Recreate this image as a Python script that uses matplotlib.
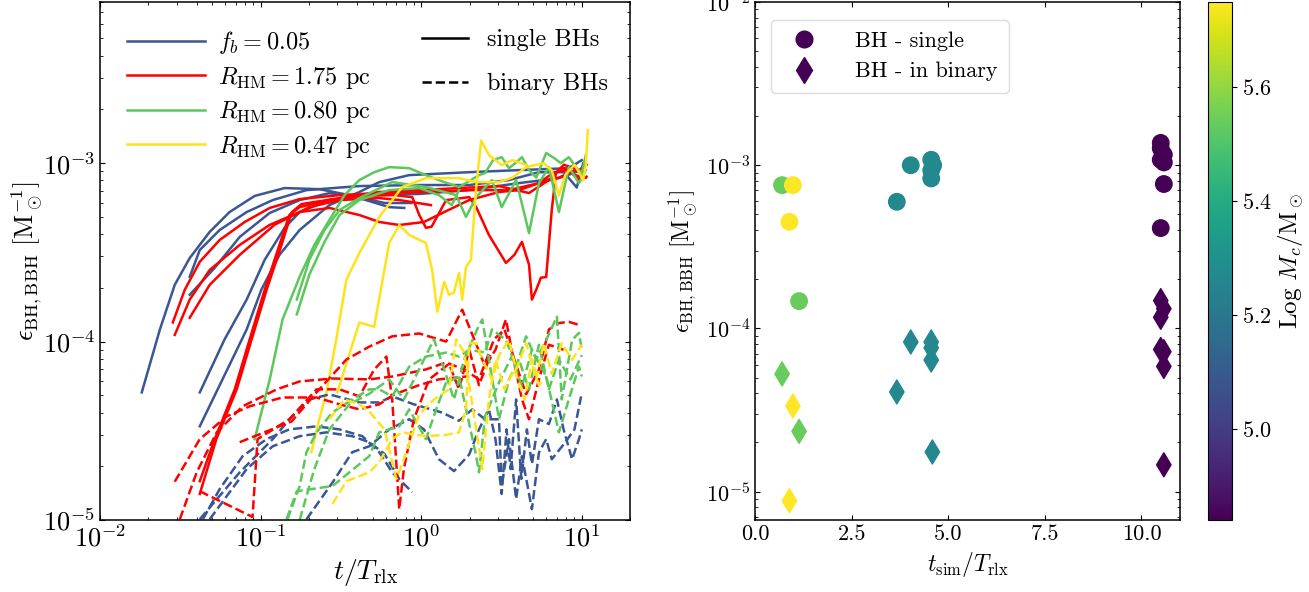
import numpy as np
import matplotlib
matplotlib.use("Agg")
import matplotlib.pyplot as plt
from matplotlib.lines import Line2D
from matplotlib.ticker import FormatStrFormatter

plt.rcParams['font.family'] = 'serif'
plt.rcParams['font.serif'] = ['cmr10', 'DejaVu Serif']
plt.rcParams['mathtext.fontset'] = 'cm'
plt.rcParams['axes.formatter.use_mathtext'] = True
plt.rcParams['xtick.direction'] = 'in'
plt.rcParams['ytick.direction'] = 'in'
plt.rcParams['xtick.top'] = True
plt.rcParams['ytick.right'] = True

# ---- left panel: efficiency vs time (single = solid, binary = dashed) ----
c_blue, c_red, c_green, c_yellow = '#3a5795', '#ff0000', '#5cc85c', '#ffe31a'

# f_b = 0.05, single BHs
t_bs1 = [0.0182, 0.0236, 0.0292, 0.0362, 0.0482, 0.0641, 0.0918, 0.141, 0.232, 0.412, 0.589, 0.867]
e_bs1 = [5.19e-5, 1.17e-4, 2.08e-4, 2.94e-4, 4.12e-4, 5.32e-4, 6.55e-4, 7.25e-4, 7.15e-4, 6.45e-4, 5.98e-4, 5.98e-4]
t_bs2 = [0.0362, 0.0418, 0.0556, 0.0819, 0.119, 0.193, 0.412, 0.973, 1.99, 3.52, 5.41, 7.73, 9.3, 10.2]
e_bs2 = [2.31e-4, 3.26e-4, 4.22e-4, 5.32e-4, 6.21e-4, 7.06e-4, 7.44e-4, 7.54e-4, 7.54e-4, 8.04e-4, 8.9e-4, 8.9e-4, 7.3e-4, 1.0e-3]
t_bs3 = [0.0362, 0.0518, 0.0741, 0.114, 0.175, 0.268, 0.412, 0.632, 0.784]
e_bs3 = [1.83e-4, 2.59e-4, 3.86e-4, 5.26e-4, 6.21e-4, 6.79e-4, 6.37e-4, 5.67e-4, 5.61e-4]
t_bs4 = [0.0418, 0.0597, 0.0819, 0.106, 0.141, 0.175, 0.268, 0.475, 0.973, 1.99, 4.06, 7.2, 10.0]
e_bs4 = [5.19e-5, 1.03e-4, 1.72e-4, 2.87e-4, 4.34e-4, 5.32e-4, 6.21e-4, 6.62e-4, 6.72e-4, 7.06e-4, 7.73e-4, 8.24e-4, 9.14e-4]
t_bs5 = [0.0418, 0.0819, 0.101, 0.131, 0.175, 0.268, 0.412, 0.548, 0.842, 1.99, 4.06, 8.3, 10.0]
e_bs5 = [3.35e-5, 1.17e-4, 1.95e-4, 3.06e-4, 4.22e-4, 5.82e-4, 6.89e-4, 7.83e-4, 8.57e-4, 8.9e-4, 9.14e-4, 9.37e-4, 1.04e-3]

# R_HM = 1.75 pc, single BHs
t_rs1 = [0.0284, 0.0337, 0.0418, 0.0556, 0.0796, 0.114, 0.175, 0.310, 0.548, 1.12, 1.99, 3.52, 5.41, 7.2, 9.0, 10.4]
e_rs1 = [1.28e-4, 1.95e-4, 2.8e-4, 3.71e-4, 4.68e-4, 5.61e-4, 6.29e-4, 6.62e-4, 6.8e-4, 6.89e-4, 7.06e-4, 7.06e-4, 7.73e-4, 8.3e-4, 9.1e-4, 8.9e-4]
t_rs2 = [0.0292, 0.0362, 0.0482, 0.0741, 0.114, 0.175, 0.268, 0.412, 0.548, 0.73, 1.04, 1.39, 1.99, 3.05, 4.06, 5.41, 6.7, 8.3, 9.6, 10.7]
e_rs2 = [1.09e-4, 1.72e-4, 2.52e-4, 3.48e-4, 4.51e-4, 5.32e-4, 5.61e-4, 5.12e-4, 4.68e-4, 4.5e-4, 4.68e-4, 5.32e-4, 6.21e-4, 6.89e-4, 7.06e-4, 7.73e-4, 8.9e-4, 9.14e-4, 8.04e-4, 8.4e-4]
t_rs3 = [0.0362, 0.0482, 0.0741, 0.122, 0.201, 0.310, 0.548, 0.73, 1.15]
e_rs3 = [1.36e-4, 2.08e-4, 3.06e-4, 4.51e-4, 5.67e-4, 6.21e-4, 6.37e-4, 6.21e-4, 5.82e-4]
t_rs4 = [0.0418, 0.0518, 0.069, 0.0855, 0.106, 0.131, 0.151, 0.175, 0.268, 0.412, 0.679, 0.88, 0.973, 1.07, 1.16,
         1.43, 1.99, 2.2, 2.64, 3.37, 3.8, 4.24, 4.69, 4.89, 5.2, 5.56, 6.0, 6.5, 6.9, 7.7, 9.0, 10.6]
e_rs4 = [1.65e-5, 2.84e-5, 5.4e-5, 1.03e-4, 1.95e-4, 3.48e-4, 5.12e-4, 5.67e-4, 6.21e-4, 6.55e-4, 6.62e-4, 6.45e-4, 5.12e-4, 4.34e-4, 4.4e-4,
         6.21e-4, 6.45e-4, 5.67e-4, 3.96e-4, 2.76e-4, 3.06e-4, 3.62e-4, 2.7e-4, 1.72e-4, 1.95e-4, 2.28e-4, 2.3e-4, 5.46e-4, 8.8e-4, 9.4e-4, 8.57e-4, 8.3e-4]
t_rs5 = [0.0418, 0.053, 0.071, 0.088, 0.109, 0.135, 0.156, 0.18, 0.310, 0.548, 0.97, 1.72, 3.05, 4.69, 6.24, 7.73, 9.6, 10.7]
e_rs5 = [1.4e-5, 2.84e-5, 5.4e-5, 1.03e-4, 1.95e-4, 3.48e-4, 5.3e-4, 5.9e-4, 6.37e-4, 6.89e-4, 7.06e-4, 7.25e-4, 7.44e-4, 6.8e-4, 8.04e-4, 9.8e-4, 9.14e-4, 9.8e-4]

# R_HM = 0.80 pc, single BHs
t_gs1 = [0.0918, 0.114, 0.137, 0.175, 0.216, 0.268, 0.333, 0.412, 0.51, 0.632, 0.842, 1.07, 1.39, 1.72, 2.04, 2.29, 2.5,
         2.8, 3.17, 3.52, 3.9, 4.24, 4.69, 5.2, 6.0, 6.7, 7.4, 8.3, 9.3, 10.0, 10.6]
e_gs1 = [2.84e-5, 6.14e-5, 1.33e-4, 2.31e-4, 3.48e-4, 4.8e-4, 6.62e-4, 8.04e-4, 8.9e-4, 9.5e-4, 9.37e-4, 8.57e-4, 7.83e-4, 7.35e-4, 8.04e-4, 8.57e-4, 8.8e-4,
         1.04e-3, 1.08e-3, 9.37e-4, 1.01e-3, 1.08e-3, 9.14e-4, 8.3e-4, 1.14e-3, 1.07e-3, 1.0e-3, 1.08e-3, 9.4e-4, 8.8e-4, 1.11e-3]
t_gs2 = [0.168, 0.201, 0.25, 0.31, 0.412, 0.66, 1.07, 1.65, 1.9, 2.2, 2.76, 3.17, 3.9, 4.69, 5.41, 6.24, 7.2, 8.3, 9.6, 10.6]
e_gs2 = [1.72e-4, 2.87e-4, 4.22e-4, 5.46e-4, 6.37e-4, 7.83e-4, 7.35e-4, 6.62e-4, 5.0e-4, 6.45e-4, 8.04e-4, 5.67e-4, 8.04e-4, 4.06e-4, 7.73e-4, 9.5e-4, 5.32e-4, 9.5e-4, 7.73e-4, 9.14e-4]
t_gs3 = [0.168, 0.201, 0.25, 0.31, 0.412, 0.632, 0.973, 1.29, 1.55, 1.72]
e_gs3 = [1.42e-4, 2.37e-4, 3.62e-4, 5.12e-4, 6.21e-4, 7.06e-4, 7.25e-4, 6.62e-4, 5.82e-4, 7.06e-4]

# R_HM = 0.47 pc, single BHs
t_ys1 = [0.207, 0.232, 0.257, 0.296, 0.342, 0.412, 0.548, 0.762, 1.07, 1.72, 2.2, 3.05, 3.7, 4.5, 5.8, 6.5, 7.2, 7.9, 9.0, 9.6, 10.2, 10.6, 10.9]
e_ys1 = [2.4e-5, 3.67e-5, 5.19e-5, 1.03e-4, 2.22e-4, 3.14e-4, 4.99e-4, 7.35e-4, 8.24e-4, 8.24e-4, 7.83e-4, 7.83e-4, 8.3e-4, 9.5e-4, 1.0e-3, 9.1e-4, 6.6e-4, 8.6e-4, 9.8e-4, 8.9e-4, 8.0e-4, 9.8e-4, 1.53e-3]
t_ys2 = [0.30, 0.412, 0.51, 0.632, 0.73, 0.842, 1.07, 1.17, 1.26, 1.39, 1.49, 1.6, 1.72, 1.8, 1.9, 2.04, 2.2, 2.36, 2.64, 3.17, 3.7, 4.5]
e_ys2 = [5.19e-5, 1.28e-4, 1.21e-4, 3.57e-4, 4.5e-4, 3.96e-4, 3.57e-4, 2.52e-4, 1.47e-4, 2.16e-4, 1.83e-4, 1.88e-4, 2.43e-4, 1.72e-4, 2.62e-4, 2.87e-4, 7.35e-4, 1.34e-3, 1.11e-3, 9.75e-4, 1.04e-3, 9.75e-4]

# f_b = 0.05, binary BHs
t_bd1 = [0.0437, 0.0556, 0.0773, 0.109, 0.151, 0.223, 0.31, 0.43, 0.548, 0.66, 0.88]
e_bd1 = [1.01e-5, 1.49e-5, 2.28e-5, 2.84e-5, 3.22e-5, 3.35e-5, 3.22e-5, 2.95e-5, 2.4e-5, 1.85e-5, 1.43e-5]
t_bd2 = [0.0482, 0.0615, 0.0819, 0.119, 0.175, 0.257, 0.372, 0.475, 0.59, 0.73]
e_bd2 = [1.01e-5, 1.36e-5, 1.93e-5, 2.59e-5, 2.95e-5, 3.1e-5, 2.95e-5, 2.73e-5, 2.35e-5, 1.7e-5]
t_bd3 = [0.0418, 0.0741, 0.119, 0.151, 0.201, 0.268, 0.412, 0.548, 0.66, 0.9, 1.35, 1.72, 2.08, 2.5, 3.05, 3.17,
         3.52, 3.9, 4.24, 4.89, 5.41, 6.0, 6.5, 7.9, 9.0, 9.9]
e_bd3 = [1.01e-5, 1.85e-5, 2.84e-5, 3.67e-5, 4.74e-5, 5.06e-5, 4.56e-5, 4.56e-5, 4.93e-5, 4.45e-5, 4.0e-5, 3.6e-5, 4.17e-5, 3.67e-5, 3.67e-5, 1.55e-5,
         2.84e-5, 1.31e-5, 2.28e-5, 1.15e-5, 2.39e-5, 2.84e-5, 2.19e-5, 2.73e-5, 3.22e-5, 4.93e-5]
t_bd4 = [0.193, 0.28, 0.372, 0.475, 0.632, 0.842, 1.04, 1.29, 1.6, 1.99, 2.29, 2.64, 2.9, 3.17, 3.4, 3.6, 3.9, 4.2,
         4.55, 4.89, 5.41, 6.24, 7.0, 7.7, 8.7, 9.6, 10.0]
e_bd4 = [1.01e-5, 1.62e-5, 2.4e-5, 2.59e-5, 3.22e-5, 3.67e-5, 3.22e-5, 2.19e-5, 1.88e-5, 2.33e-5, 3.22e-5, 4.17e-5, 2.84e-5, 1.4e-5, 3.22e-5, 1.93e-5, 4.74e-5, 1.7e-5,
         3.22e-5, 2.06e-5, 3.67e-5, 3.45e-5, 4.74e-5, 3.22e-5, 2.19e-5, 2.84e-5, 3.22e-5]

# R_HM = 1.75 pc, binary BHs
t_rd1 = [0.0314, 0.040, 0.0533, 0.0773, 0.126, 0.175, 0.28, 0.475, 0.66, 1.07, 1.43, 1.85, 2.29, 2.84, 3.3, 3.8,
         4.5, 5.41, 6.24, 7.2, 8.3, 9.9]
e_rd1 = [1.01e-5, 1.85e-5, 3.1e-5, 4.34e-5, 5.4e-5, 5.98e-5, 6.21e-5, 6.14e-5, 6.37e-5, 6.98e-5, 7.64e-5, 6.98e-5, 6.14e-5, 1.03e-4, 1.17e-4, 7.93e-5,
         5.06e-5, 6.98e-5, 1.17e-4, 1.27e-4, 1.29e-4, 1.23e-4]
t_rd2 = [0.0741, 0.156, 0.223, 0.342, 0.475, 0.66, 0.973, 1.43, 1.8, 2.06, 2.5, 2.9, 3.37, 3.66, 4.24, 4.69, 5.41, 6.24, 7.7]
e_rd2 = [2.73e-5, 3.57e-5, 5.19e-5, 7.93e-5, 9.37e-5, 1.07e-4, 1.11e-4, 1.0e-4, 1.51e-4, 1.12e-4, 7.24e-5, 9.0e-5, 1.33e-4, 9.0e-5, 4.74e-5, 3.67e-5, 6.14e-5, 9.6e-5, 9.0e-5]
t_rd3 = [0.0418, 0.0891, 0.0957, 0.151, 0.223, 0.31, 0.412, 0.51, 0.607, 0.66, 0.73, 0.78, 0.9, 1.12, 1.49, 1.72, 1.99, 2.29, 2.7]
e_rd3 = [1.45e-5, 1.04e-5, 2.84e-5, 3.67e-5, 5.4e-5, 5.4e-5, 4.93e-5, 6.98e-5, 8.24e-5, 4.74e-5, 1.15e-5, 1.93e-5, 3.67e-5, 6.14e-5, 7.5e-5, 5.4e-5, 9.0e-5, 5.7e-5, 8.4e-5]
t_rd4 = [0.0292, 0.0418, 0.0615, 0.0855, 0.137, 0.223, 0.31, 0.412, 0.548, 0.68, 0.97, 1.29, 1.99]
e_rd4 = [1.64e-5, 2.84e-5, 3.81e-5, 4.34e-5, 4.86e-5, 4.86e-5, 4.45e-5, 4.17e-5, 4.45e-5, 5.06e-5, 5.7e-5, 6.14e-5, 6.4e-5]

# R_HM = 0.80 pc, binary BHs
t_gd1 = [0.147, 0.175, 0.193, 0.223, 0.28, 0.372, 0.475, 0.548, 0.66, 0.842, 1.07, 1.43, 1.72, 1.99, 2.5, 2.76,
         3.37, 3.9, 4.5, 5.2, 6.0, 7.0, 7.5, 8.7, 9.6, 10.0]
e_gd1 = [1.01e-5, 1.55e-5, 2.4e-5, 3.1e-5, 4.01e-5, 4.74e-5, 5.4e-5, 5.4e-5, 4.93e-5, 7.24e-5, 8.24e-5, 8.68e-5, 8.24e-5, 9.0e-5, 8.68e-5, 1.17e-4,
         1.02e-4, 7.24e-5, 1.07e-4, 7.93e-5, 1.02e-4, 1.38e-4, 4.74e-5, 1.02e-4, 1.12e-4, 9.0e-5]
t_gd2 = [0.145, 0.168, 0.28, 0.475, 0.548, 0.73, 0.842, 1.07, 1.24, 1.43, 1.72, 2.2, 2.29, 2.5, 3.05, 3.66, 4.24,
         4.89, 6.0, 7.2, 8.3, 9.6, 10.0]
e_gd2 = [1.01e-5, 1.45e-5, 1.55e-5, 2.28e-5, 3.1e-5, 3.35e-5, 4.17e-5, 2.84e-5, 4.17e-5, 5.9e-5, 6.37e-5, 2.28e-5, 1.85e-5, 3.81e-5, 5.9e-5, 8.24e-5, 5.6e-5,
         9.0e-5, 6.37e-5, 3.1e-5, 4.74e-5, 7.24e-5, 6.37e-5]
t_gd3 = [0.175, 0.216, 0.268, 0.357, 0.475, 0.632, 0.78, 0.97, 1.2, 1.39, 1.6, 1.85, 2.23, 2.4, 2.64, 3.05, 3.52,
         4.06, 4.69, 5.41, 6.24, 7.2, 8.5, 10.0]
e_gd3 = [1.0e-5, 1.93e-5, 3.22e-5, 4.45e-5, 5.1e-5, 6.14e-5, 4.74e-5, 6.98e-5, 1.03e-4, 6.98e-5, 4.74e-5, 7.93e-5, 1.17e-4, 1.33e-4, 7.93e-5, 3.67e-5, 6.14e-5,
         7.93e-5, 5.4e-5, 9.6e-5, 5.4e-5, 7.93e-5, 6.14e-5, 8.4e-5]

# R_HM = 0.47 pc, binary BHs
t_yd1 = [0.28, 0.342, 0.475, 0.548, 0.66, 0.76, 1.07, 1.43, 1.72, 1.9, 1.99, 2.2, 2.4, 2.76, 3.05, 3.52, 3.9, 4.5,
         5.2, 5.8, 6.5, 7.5, 8.7, 10.0]
e_yd1 = [1.23e-5, 1.65e-5, 1.85e-5, 2.11e-5, 2.84e-5, 3.1e-5, 2.95e-5, 3.0e-5, 3.1e-5, 4.17e-5, 9.8e-5, 9.8e-5, 7.93e-5, 6.14e-5, 8.4e-5, 1.02e-4, 6.98e-5, 9.8e-5,
         6.14e-5, 9.8e-5, 6.6e-5, 9.8e-5, 7.9e-5, 9.6e-5]
t_yd2 = [0.268, 0.333, 0.412, 0.475, 0.59, 0.7, 0.78, 0.97, 1.2, 1.49, 1.65, 1.85, 2.15, 2.4, 2.64, 2.9, 3.3, 3.8,
         4.4, 4.9, 5.4, 5.8]
e_yd2 = [3.67e-5, 4.74e-5, 4.45e-5, 4.06e-5, 3.22e-5, 1.7e-5, 2.19e-5, 3.9e-5, 4.74e-5, 5.4e-5, 1.03e-4, 8.7e-5, 3.67e-5, 1.93e-5, 4.74e-5, 7.93e-5, 5.4e-5, 6.98e-5,
         4.74e-5, 7.93e-5, 5.7e-5, 6.1e-5]

single_lines = [(t_bs1, e_bs1, c_blue), (t_bs2, e_bs2, c_blue), (t_bs3, e_bs3, c_blue), (t_bs4, e_bs4, c_blue), (t_bs5, e_bs5, c_blue),
                (t_rs1, e_rs1, c_red), (t_rs2, e_rs2, c_red), (t_rs3, e_rs3, c_red), (t_rs4, e_rs4, c_red), (t_rs5, e_rs5, c_red),
                (t_gs1, e_gs1, c_green), (t_gs2, e_gs2, c_green), (t_gs3, e_gs3, c_green),
                (t_ys1, e_ys1, c_yellow), (t_ys2, e_ys2, c_yellow)]
binary_lines = [(t_bd1, e_bd1, c_blue), (t_bd2, e_bd2, c_blue), (t_bd3, e_bd3, c_blue), (t_bd4, e_bd4, c_blue),
                (t_rd1, e_rd1, c_red), (t_rd2, e_rd2, c_red), (t_rd3, e_rd3, c_red), (t_rd4, e_rd4, c_red),
                (t_gd1, e_gd1, c_green), (t_gd2, e_gd2, c_green), (t_gd3, e_gd3, c_green),
                (t_yd1, e_yd1, c_yellow), (t_yd2, e_yd2, c_yellow)]

group_labels = [r'$f_b = 0.05$', r'$R_{\rm HM} = 1.75$ pc', r'$R_{\rm HM} = 0.80$ pc', r'$R_{\rm HM} = 0.47$ pc']
group_colors = [c_blue, c_red, c_green, c_yellow]

# ---- right panel: final efficiency vs simulation time ----
tsim_single = [0.70, 0.98, 0.89, 1.14, 3.67, 4.03, 4.56, 4.56, 4.56, 4.61, 10.5, 10.5, 10.58, 10.5, 10.58, 10.58, 10.5]
eps_single = [7.55e-4, 7.55e-4, 4.5e-4, 1.47e-4, 5.97e-4, 1.0e-3, 1.08e-3, 9.3e-4, 8.3e-4, 1.0e-3,
              1.37e-3, 1.27e-3, 1.16e-3, 1.08e-3, 1.04e-3, 7.67e-4, 4.12e-4]
logM_single = [5.54, 5.75, 5.75, 5.54, 5.27, 5.27, 5.27, 5.27, 5.27, 5.27, 4.84, 4.84, 4.84, 4.84, 4.84, 4.84, 4.84]
tsim_bin = [0.70, 0.98, 1.14, 0.89, 3.67, 4.03, 4.56, 4.56, 4.56, 4.59, 10.5, 10.58, 10.5, 10.5, 10.58, 10.58, 10.58]
eps_bin = [5.26e-5, 3.35e-5, 2.34e-5, 8.8e-6, 4.08e-5, 8.26e-5, 8.26e-5, 7.6e-5, 6.4e-5, 1.75e-5,
           1.48e-4, 1.32e-4, 1.17e-4, 7.43e-5, 7.2e-5, 5.85e-5, 1.46e-5]
logM_bin = [5.54, 5.75, 5.54, 5.75, 5.27, 5.27, 5.27, 5.27, 5.27, 5.27, 4.84, 4.84, 4.84, 4.84, 4.84, 4.84, 4.84]
logM_min, logM_max = 4.84, 5.75
tsim_ticks = [0.0, 2.5, 5.0, 7.5, 10.0]

fig = plt.figure(figsize=(13.09, 5.92), dpi=100)
ax1 = fig.add_axes([0.0764, 0.1216, 0.405, 0.875])
ax2 = fig.add_axes([0.5768, 0.1216, 0.3247, 0.875])
cax = fig.add_axes([0.9229, 0.1216, 0.0183, 0.875])

for t, e, c in single_lines:
    ax1.plot(t, e, color=c, lw=1.8, ls='-')
for t, e, c in binary_lines:
    ax1.plot(t, e, color=c, lw=1.8, ls='--')

ax1.set_xscale('log')
ax1.set_yscale('log')
ax1.set_xlim(1e-2, 20)
ax1.set_ylim(1e-5, 8e-3)
ax1.tick_params(labelsize=19)
ax1.set_xlabel(r'$t/T_{\rm rlx}$', fontsize=20)
ax1.set_ylabel(r'$\epsilon_{\rm BH,BBH}\ [\rm M_\odot^{-1}]$', fontsize=19, labelpad=-2)

h_groups = [Line2D([], [], color=c, lw=1.8) for c in group_colors]
leg1 = ax1.legend(h_groups, group_labels, loc='upper left', frameon=False, fontsize=17.5,
                  handlelength=3.2, handletextpad=0.55, labelspacing=0.35, bbox_to_anchor=(0.01, 0.99))
ax1.add_artist(leg1)
h_styles = [Line2D([], [], color='k', lw=1.8, ls='-'), Line2D([], [], color='k', lw=1.8, ls='--')]
ax1.legend(h_styles, ['single BHs', 'binary BHs'], loc='upper right', frameon=False, fontsize=17.5,
           handlelength=1.9, labelspacing=0.9, bbox_to_anchor=(1.0, 0.99))

purple = plt.get_cmap('viridis')(0.0)
sc = ax2.scatter(tsim_single, eps_single, c=logM_single, cmap='viridis', vmin=logM_min, vmax=logM_max,
                 marker='o', s=140)
ax2.scatter(tsim_bin, eps_bin, c=logM_bin, cmap='viridis', vmin=logM_min, vmax=logM_max,
            marker='d', s=150)
ax2.set_yscale('log')
ax2.set_xlim(0, 11)
ax2.set_ylim(6.7e-6, 1e-2)
ax2.set_xticks(tsim_ticks)
ax2.xaxis.set_major_formatter(FormatStrFormatter('%.1f'))
ax2.tick_params(labelsize=16)
ax2.tick_params(axis='x', which='minor', top=False, bottom=False)
ax2.set_xlabel(r'$t_{\rm sim}/T_{\rm rlx}$', fontsize=17)
ax2.set_ylabel(r'$\epsilon_{\rm BH,BBH}\ [\rm M_\odot^{-1}]$', fontsize=17)
h_marks = [Line2D([], [], ls='', marker='o', color=purple, markersize=12),
           Line2D([], [], ls='', marker='d', color=purple, markersize=13)]
ax2.legend(h_marks, ['BH - single', 'BH - in binary'], loc='upper left', fontsize=16, framealpha=1,
           edgecolor='#dddddd', borderpad=0.5, handletextpad=1.3, borderaxespad=0.7,
           bbox_to_anchor=(0.0, 0.995))

cb = fig.colorbar(sc, cax=cax)
cb.set_ticks([5.0, 5.2, 5.4, 5.6])
cb.ax.tick_params(labelsize=16, direction='out')
cb.set_label(r'Log $M_c/\rm M_\odot$', fontsize=18)

for ax in (ax1, ax2):
    for s in ax.spines.values():
        s.set_linewidth(1.1)

fig.savefig('out.png', dpi=100)
